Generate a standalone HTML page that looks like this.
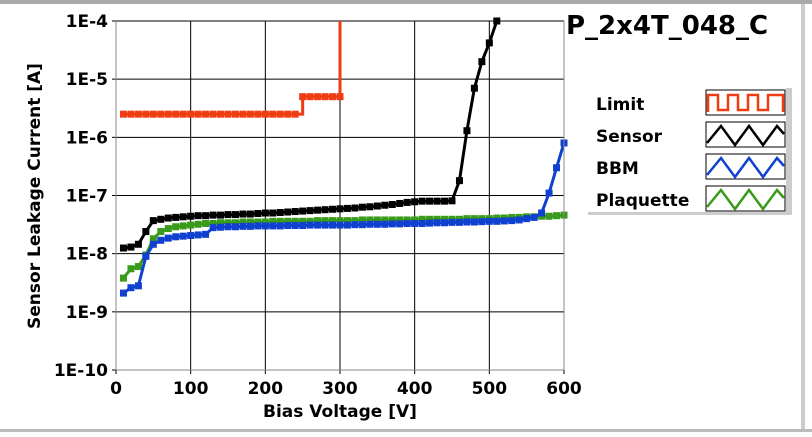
<!DOCTYPE html>
<html><head><meta charset="utf-8">
<style>
body{margin:0;background:#fff;width:812px;height:433px;overflow:hidden;font-family:"DejaVu Sans","Liberation Sans",sans-serif;}
svg text{font-weight:bold;fill:#000;}
</style></head>
<body>
<svg id="chart" width="812" height="433" xmlns="http://www.w3.org/2000/svg">
<rect x="0" y="0" width="812" height="4" fill="#aaa"/>
<rect x="0" y="429" width="812" height="3" fill="#bbb"/>
<rect x="801" y="4" width="4" height="425" fill="#ccc"/>
<text x="566" y="34" font-size="26">P_2x4T_048_C</text>
<g id="grid"></g>
<g id="series"></g>
<g id="axes"></g>
<text transform="translate(40,196) rotate(-90)" text-anchor="middle" font-size="17">Sensor Leakage Current [A]</text>
<text x="340" y="417" text-anchor="middle" font-size="17">Bias Voltage [V]</text>
<g>
<rect x="588" y="85" width="205" height="130" fill="#fff"/>
<rect x="786" y="88" width="6" height="127" fill="#ccc"/>
<rect x="588" y="212" width="204" height="3" fill="#ccc"/>
<g><text x="596" y="110" font-size="17">Limit</text>
<rect x="706" y="90" width="79" height="25" fill="#fff" stroke="#000"/>
<polyline points="708,112 708,95 718,95 718,110 728,110 728,95 738,95 738,110 748,110 748,95 758,95 758,110 768,110 768,95 783,95 783,112" fill="none" stroke="#f03c12" stroke-width="2.5"/></g>
<g><text x="596" y="142" font-size="17">Sensor</text>
<rect x="706" y="122" width="79" height="25" fill="#fff" stroke="#000"/>
<polyline points="707,143 721,126 735,145 749,126 763,145 777,126 784,134" fill="none" stroke="#000" stroke-width="2.5"/></g>
<g><text x="596" y="174" font-size="17">BBM</text>
<rect x="706" y="154" width="79" height="25" fill="#fff" stroke="#000"/>
<polyline points="707,175 721,158 735,177 749,158 763,177 777,158 784,166" fill="none" stroke="#1040d0" stroke-width="2.5"/></g>
<g><text x="596" y="206" font-size="17">Plaquette</text>
<rect x="706" y="186" width="79" height="25" fill="#fff" stroke="#000"/>
<polyline points="707,207 721,190 735,209 749,190 763,209 777,190 784,198" fill="none" stroke="#3a9a1a" stroke-width="2.5"/></g>
</g>
</svg>
<script>
const xTicks=[0,100,200,300,400,500,600];
const yTickExps=[-4,-5,-6,-7,-8,-9,-10];
const yTickLabels=["1E-4","1E-5","1E-6","1E-7","1E-8","1E-9","1E-10"];
const limitV=[10,20,30,40,50,60,70,80,90,100,110,120,130,140,150,160,170,180,190,200,210,220,230,240,250,260,270,280,290,300,300];
const limitI=[2.5e-6,2.5e-6,2.5e-6,2.5e-6,2.5e-6,2.5e-6,2.5e-6,2.5e-6,2.5e-6,2.5e-6,2.5e-6,2.5e-6,2.5e-6,2.5e-6,2.5e-6,2.5e-6,2.5e-6,2.5e-6,2.5e-6,2.5e-6,2.5e-6,2.5e-6,2.5e-6,2.5e-6,5e-6,5e-6,5e-6,5e-6,5e-6,5e-6,1e-4];
const sensorV=[10,20,30,40,50,60,70,80,90,100,110,120,130,140,150,160,170,180,190,200,210,220,230,240,250,260,270,280,290,300,310,320,330,340,350,360,370,380,390,400,410,420,430,440,450,460,470,480,490,500,510];
const sensorI=[1.25e-8,1.3e-8,1.45e-8,2.4e-8,3.7e-8,3.9e-8,4.1e-8,4.2e-8,4.3e-8,4.4e-8,4.5e-8,4.5e-8,4.6e-8,4.6e-8,4.7e-8,4.7e-8,4.8e-8,4.8e-8,4.9e-8,5.0e-8,5.0e-8,5.1e-8,5.2e-8,5.3e-8,5.4e-8,5.5e-8,5.6e-8,5.7e-8,5.8e-8,5.9e-8,6.0e-8,6.1e-8,6.3e-8,6.4e-8,6.6e-8,6.8e-8,7.0e-8,7.3e-8,7.6e-8,7.8e-8,8.0e-8,8.0e-8,8.0e-8,8.0e-8,8.1e-8,1.8e-7,1.3e-6,7e-6,2e-5,4.2e-5,1e-4];
const fullV=[10,20,30,40,50,60,70,80,90,100,110,120,130,140,150,160,170,180,190,200,210,220,230,240,250,260,270,280,290,300,310,320,330,340,350,360,370,380,390,400,410,420,430,440,450,460,470,480,490,500,510,520,530,540,550,560,570,580,590,600];
const plaqI=[3.8e-9,5.5e-9,6.0e-9,9.5e-9,1.8e-8,2.4e-8,2.7e-8,2.9e-8,3.0e-8,3.1e-8,3.2e-8,3.3e-8,3.3e-8,3.4e-8,3.4e-8,3.4e-8,3.5e-8,3.5e-8,3.5e-8,3.5e-8,3.6e-8,3.6e-8,3.6e-8,3.6e-8,3.6e-8,3.6e-8,3.7e-8,3.7e-8,3.7e-8,3.7e-8,3.7e-8,3.7e-8,3.8e-8,3.8e-8,3.8e-8,3.8e-8,3.8e-8,3.8e-8,3.8e-8,3.8e-8,3.9e-8,3.9e-8,3.9e-8,3.9e-8,3.9e-8,3.9e-8,4.0e-8,4.0e-8,4.0e-8,4.0e-8,4.1e-8,4.1e-8,4.2e-8,4.2e-8,4.3e-8,4.3e-8,4.4e-8,4.4e-8,4.5e-8,4.6e-8];
const bbmI=[2.1e-9,2.6e-9,2.8e-9,9e-9,1.45e-8,1.7e-8,1.85e-8,1.95e-8,2.0e-8,2.05e-8,2.1e-8,2.15e-8,2.8e-8,2.85e-8,2.9e-8,2.9e-8,2.95e-8,2.95e-8,3.0e-8,3.0e-8,3.0e-8,3.0e-8,3.05e-8,3.05e-8,3.05e-8,3.1e-8,3.1e-8,3.1e-8,3.1e-8,3.1e-8,3.1e-8,3.15e-8,3.15e-8,3.2e-8,3.2e-8,3.2e-8,3.25e-8,3.25e-8,3.3e-8,3.3e-8,3.3e-8,3.35e-8,3.4e-8,3.4e-8,3.45e-8,3.45e-8,3.5e-8,3.5e-8,3.55e-8,3.6e-8,3.6e-8,3.65e-8,3.7e-8,3.8e-8,4.0e-8,4.2e-8,5e-8,1.1e-7,3e-7,8e-7];
const X0=116,X1=564,YT=21,YB=370;
const sx=v=>X0+(v-0)/600*(X1-X0);
const sy=i=>YT+(-4-Math.log10(i))/6*(YB-YT);
const NS="http://www.w3.org/2000/svg";
function mk(tag,attrs,parent){const e=document.createElementNS(NS,tag);for(const k in attrs)e.setAttribute(k,attrs[k]);parent.appendChild(e);return e;}
const grid=document.getElementById('grid'),axes=document.getElementById('axes'),ser=document.getElementById('series');
mk('rect',{x:X0,y:YT,width:X1-X0,height:YB-YT,fill:'#fff'},grid);
xTicks.forEach(v=>{
  const l=mk('line',{x1:sx(v),x2:sx(v),y1:YT,y2:YB,stroke:'#000','stroke-width':1},grid);
  
  
  const t=mk('text',{x:sx(v),y:394,'text-anchor':'middle','font-size':17},axes);
  t.textContent=v;
  
  
  mk('line',{x1:sx(v),x2:sx(v),y1:YB,y2:YB+4,stroke:'#000'},axes);
});
yTickExps.forEach((e,k)=>{
  const y=sy(Math.pow(10,e));
  const l=mk('line',{x1:X0,x2:X1,y1:y,y2:y,stroke:'#000','stroke-width':1},grid);
  
  
  const t=mk('text',{x:108,y:y+6,'text-anchor':'end','font-size':17},axes);
  t.textContent=yTickLabels[k];
  
  
  mk('line',{x1:X0-4,x2:X0,y1:y,y2:y,stroke:'#000'},axes);
});
mk('line',{x1:X0,x2:X0,y1:YT,y2:YB,stroke:'#888'},axes);
mk('line',{x1:X0,x2:X1,y1:YB,y2:YB,stroke:'#888'},axes);
mk('line',{x1:X1,x2:X1,y1:YT,y2:YB,stroke:'#888'},axes);
function drawSeries(V,I,color,name,step){
  const g=mk('g',{},ser);
  
  
  let pts=[];
  for(let k=0;k<V.length;k++){
    if(step&&k>0)pts.push(sx(V[k])+','+sy(I[k-1]));
    pts.push(sx(V[k])+','+sy(I[k]));
  }
  mk('polyline',{points:pts.join(' '),fill:'none',stroke:color,'stroke-width':3},g);
  for(let k=0;k<V.length;k++){
    if(Math.abs(Math.log10(I[k])+4)<0.01&&step)continue;
    const r=mk('rect',{x:sx(V[k])-3.5,y:sy(I[k])-3.5,width:7,height:7,fill:color},g);
    
    
  }
}
drawSeries(limitV,limitI,'#f03c12','limit-series',true);
drawSeries(fullV,plaqI,'#3a9a1a','plaquette-series',false);
drawSeries(fullV,bbmI,'#1040d0','bbm-series',false);
drawSeries(sensorV,sensorI,'#000','sensor-series',false);
</script>
</body></html>
